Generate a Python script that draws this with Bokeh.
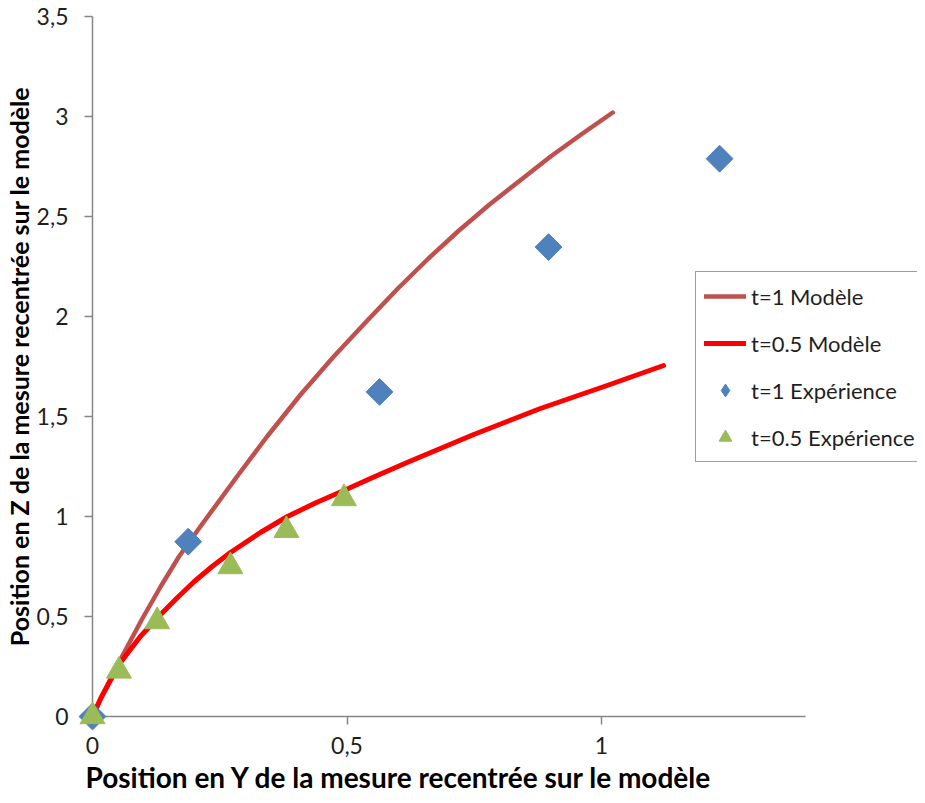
from bokeh.plotting import figure
from bokeh.models import Range1d, FixedTicker, Legend, LegendItem, Title, CustomJSTickFormatter
from bokeh.embed import file_html
from bokeh.resources import INLINE
import math

# t=1 model curve (brown)
t1_model_x = [0, 0.02, 0.058, 0.098, 0.134, 0.17, 0.212, 0.284, 0.343, 0.409, 0.474, 0.540,
              0.60, 0.66, 0.72, 0.78, 0.84, 0.90, 0.96, 1.022]
t1_model_y = [0, 0.11, 0.30, 0.49, 0.65, 0.80, 0.95, 1.20, 1.40, 1.61, 1.80, 1.98,
              2.14, 2.29, 2.43, 2.56, 2.68, 2.80, 2.91, 3.02]

# t=0.5 model curve (red)
t05_model_x = [0, 0.016, 0.052, 0.094, 0.134, 0.165, 0.200, 0.235, 0.271, 0.330, 0.383,
               0.440, 0.494, 0.546, 0.618, 0.749, 0.880, 1.011, 1.122]
t05_model_y = [0, 0.09, 0.26, 0.40, 0.51, 0.59, 0.675, 0.75, 0.82, 0.92, 1.00,
               1.07, 1.13, 1.19, 1.27, 1.41, 1.54, 1.655, 1.755]

# t=1 experiment (diamonds)
t1_exp_x = [0, 0.188, 0.564, 0.896, 1.232]
t1_exp_y = [0, 0.874, 1.623, 2.347, 2.789]

# t=0.5 experiment (triangles)
t05_exp_x = [0, 0.052, 0.127, 0.271, 0.381, 0.494]
t05_exp_y = [0, 0.228, 0.475, 0.750, 0.931, 1.090]

x_ticks = [0, 0.5, 1]
y_ticks = [0, 0.5, 1, 1.5, 2, 2.5, 3, 3.5]
x_axis_end = 1.4

FONT = "Lato"
TXT = "#1f1f1f"
AX = "#868686"

W, H = 917, 795
LEFT, TOP, BOTTOM = 92, 16, 79
px_per_unit = 509.0
x_max = (W - LEFT) / px_per_unit

p = figure(width=W, height=H, output_backend="svg", toolbar_location=None,
           x_range=Range1d(0, x_max), y_range=Range1d(0, 3.5),
           min_border_left=LEFT, min_border_right=0, min_border_top=TOP, min_border_bottom=BOTTOM)
p.xgrid.visible = False
p.ygrid.visible = False
p.outline_line_color = None
p.background_fill_color = "white"

p.xaxis.ticker = FixedTicker(ticks=x_ticks)
p.yaxis.ticker = FixedTicker(ticks=y_ticks)
p.xaxis.bounds = (0, x_axis_end)
fmt = CustomJSTickFormatter(code="return tick.toString().replace('.', ',');")
for ax in (p.xaxis[0], p.yaxis[0]):
    ax.formatter = fmt
    ax.axis_line_color = AX
    ax.axis_line_width = 1.5
    ax.major_tick_line_color = AX
    ax.major_tick_line_width = 1.5
    ax.major_tick_out = 8
    ax.major_tick_in = 0
    ax.minor_tick_out = 0
    ax.minor_tick_in = 0
    ax.major_label_text_font = FONT
    ax.major_label_text_font_size = "23px"
    ax.major_label_text_color = TXT
p.yaxis.major_label_standoff = 16
p.xaxis.major_label_standoff = 12

p.yaxis.axis_label = "Position en Z de la mesure recentrée sur le modèle"
p.yaxis.axis_label_text_font = FONT
p.yaxis.axis_label_text_font_size = "25px"
p.yaxis.axis_label_text_font_style = "bold"
p.yaxis.axis_label_text_color = "black"
p.yaxis.axis_label_standoff = 0

xt = Title(text="Position en Y de la mesure  recentrée sur le modèle", align="left", offset=-7,
           text_font=FONT, text_font_size="28px", text_font_style="bold", text_color="black",
           standoff=3, text_line_height=0.8)
p.add_layout(xt, "below")

r1 = p.line(t1_model_x, t1_model_y, line_color="#C0504D", line_width=4.5,
            line_cap="round", line_join="round")
r2 = p.line(t05_model_x, t05_model_y, line_color="#FF0000", line_width=5,
            line_cap="round", line_join="round")
r3 = p.scatter(t1_exp_x, t1_exp_y, marker="square", size=19, angle=math.pi / 4,
               fill_color="#4F81BD", line_color="#4F81BD", level="annotation")
r4 = p.scatter(t05_exp_x, t05_exp_y, marker="triangle", size=25,
               fill_color="#9BBB59", line_color="#9BBB59", level="annotation")
# legend proxy for the diamond symbol (legend ignores marker rotation)
r3_leg = p.scatter(t1_exp_x, t1_exp_y, marker="diamond", size=19,
                   fill_color="#4F81BD", line_color="#4F81BD", visible=False)

legend = Legend(items=[
    LegendItem(label="t=1 Modèle", renderers=[r1]),
    LegendItem(label="t=0.5 Modèle", renderers=[r2]),
    LegendItem(label="t=1 Expérience", renderers=[r3_leg]),
    LegendItem(label="t=0.5 Expérience", renderers=[r4]),
], location=(603, 254))
legend.label_text_font = FONT
legend.label_text_font_size = "22px"
legend.label_text_color = TXT
legend.glyph_width = 42
legend.glyph_height = 32
legend.label_standoff = 5
legend.spacing = 15
legend.padding = 8
legend.margin = 0
legend.border_line_color = "#3f3f3f"
legend.border_line_width = 1.5
legend.background_fill_color = "white"
legend.background_fill_alpha = 1
legend.inactive_fill_alpha = 0
p.add_layout(legend, "center")

open("out.html", "w").write(file_html(p, INLINE))
